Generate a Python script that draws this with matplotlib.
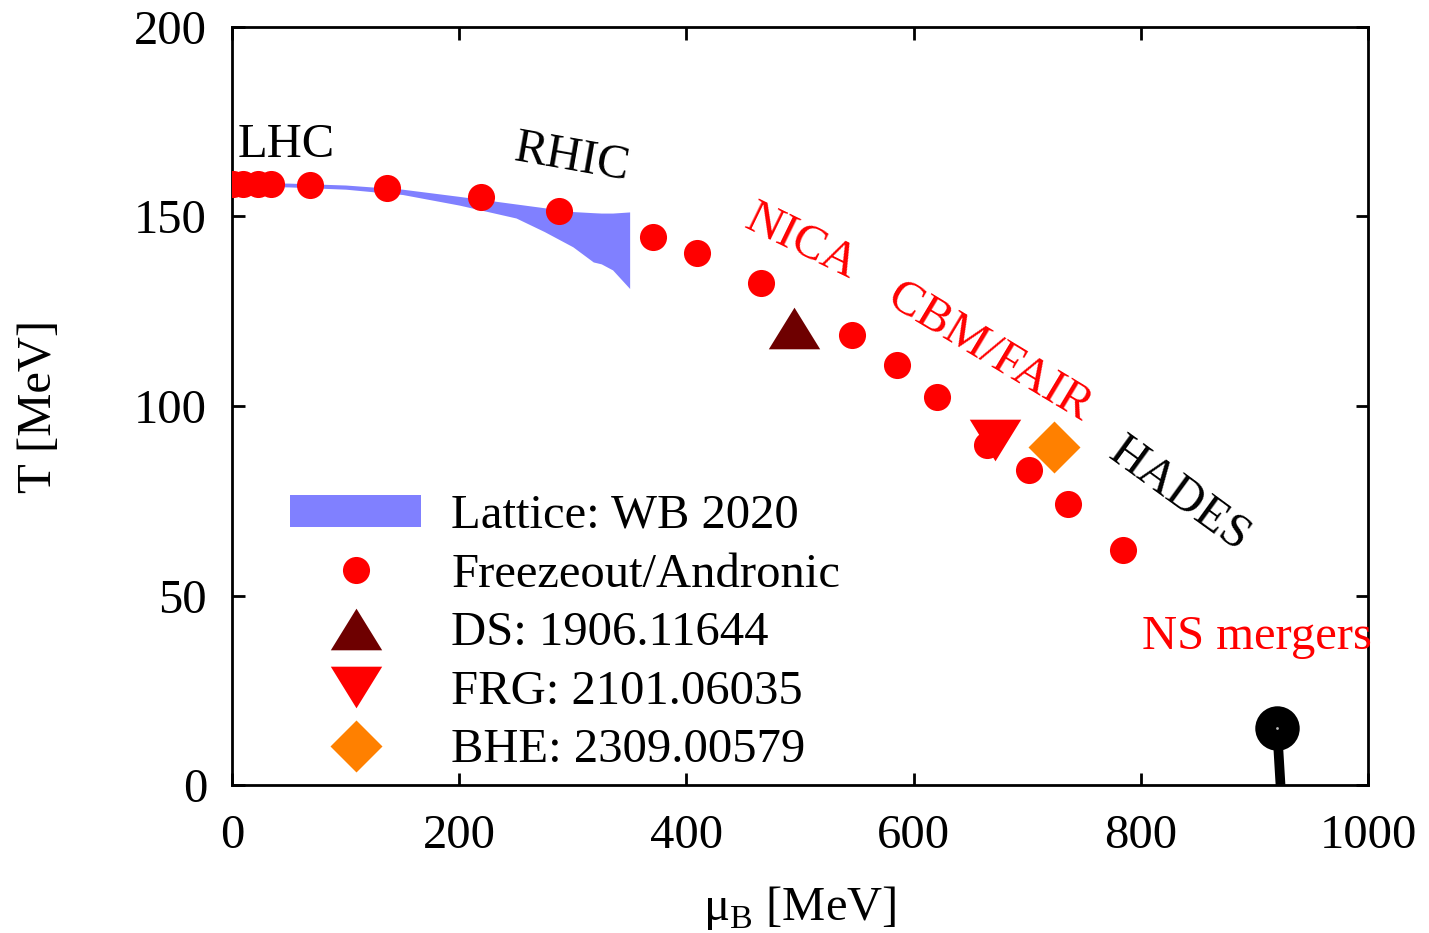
import matplotlib

matplotlib.use("Agg")
import matplotlib.pyplot as plt
from matplotlib.patches import Patch
from matplotlib.lines import Line2D

plt.rcParams["font.family"] = ["Liberation Serif", "DejaVu Serif"]
plt.rcParams["mathtext.fontset"] = "custom"
plt.rcParams["mathtext.rm"] = "Liberation Serif"

# lattice band (WB 2020)
lat_mu = [0, 50, 100, 150, 200, 250, 275, 300, 318, 325, 335, 350]
lat_upper = [158.9, 158.8, 158.3, 157.2, 155.3, 153.3, 152.3, 151.3, 151.0, 150.9, 150.9, 151.2]
lat_lower = [158.0, 157.8, 157.2, 155.8, 153.0, 149.6, 146.0, 142.0, 138.0, 137.5, 135.9, 131.0]

# freeze-out points (Andronic)
fo_mu = [1, 10, 23, 34, 69, 136, 219, 288, 371, 409, 466, 546, 585, 621, 665, 702, 736, 784]
fo_T = [158.6, 158.6, 158.6, 158.6, 158.3, 157.5, 155.1, 151.5, 144.6, 140.4, 132.5,
        118.7, 110.8, 102.4, 89.7, 83.1, 74.1, 62.0]

ds_mu, ds_T = [495], [120.5]
frg_mu, frg_T = [672], [91.0]
bhe_mu, bhe_T = [724], [89.2]

ns_mu, ns_T = [920], [15.0]
ns_line_mu = [920, 923]
ns_line_T = [15.0, 0.0]

labels = ["LHC", "RHIC", "NICA", "CBM/FAIR", "HADES"]
label_mu = [299, 501, 667, 834]
label_T = [165.4, 143.3, 114.2, 76.5]
label_rot = [-10, -26, -31, -36]
label_col = ["black", "red", "red", "black"]

FS = 35
tri_up = [(-1, -0.81), (1, -0.81), (0, 0.81)]
tri_dn = [(-1, 0.81), (1, 0.81), (0, -0.81)]

fig = plt.figure(figsize=(14.29, 9.33), dpi=100)
ax = fig.add_axes([0.1624, 0.1586, 0.7949, 0.8125])

ax.fill_between(lat_mu, lat_lower, lat_upper, color="#8080ff", lw=0, zorder=1)
ax.plot(fo_mu, fo_T, "o", color="red", ms=19.5, mec="none", zorder=3)
ax.plot(ds_mu, ds_T, marker=tri_up, ls="none", color="#6e0000", ms=37, mec="none", zorder=4)
ax.plot(frg_mu, frg_T, marker=tri_dn, ls="none", color="red", ms=37, mec="none", zorder=4)
ax.plot(bhe_mu, bhe_T, "D", color="#ff8000", ms=26.5, mec="none", zorder=4)

ax.plot(ns_line_mu, ns_line_T, color="black", lw=7, solid_capstyle="butt", zorder=4)
ax.plot(ns_mu, ns_T, "o", color="black", ms=32, mec="none", zorder=5)
ax.plot(ns_mu, ns_T, "o", color="#bbbbbb", ms=2, mec="none", zorder=6)

ax.text(5, 165.7, "LHC", fontsize=FS, color="black", ha="left", va="baseline")
for name, x, y, r, c in zip(labels[1:], label_mu, label_T, label_rot, label_col):
    ax.text(x, y, name, fontsize=FS, color=c, rotation=r, rotation_mode="anchor",
            ha="center", va="center")
ax.text(801, 35.9, "NS mergers", fontsize=FS, color="red", ha="left", va="baseline", clip_on=False)

ax.set_xlim(0, 1000)
ax.set_ylim(0, 200)
ax.set_xticks([0, 200, 400, 600, 800, 1000])
ax.set_yticks([0, 50, 100, 150, 200])
ax.tick_params(direction="in", length=9, width=2, top=True, right=True, labelsize=FS)
ax.tick_params(axis="x", pad=21)
ax.tick_params(axis="y", pad=18)
for sp in ax.spines.values():
    sp.set_linewidth(2)

ax.set_xlabel(r"μ$_{\rm B}$ [MeV]", fontsize=FS)
ax.set_ylabel("T [MeV]", fontsize=FS)
ax.xaxis.set_label_coords(0.5, -0.131)
ax.yaxis.set_label_coords(-0.151, 0.5)

handles = [
    Patch(facecolor="#8080ff", edgecolor="none"),
    Line2D([], [], ls="none", marker="o", color="red", ms=19.5, mec="none"),
    Line2D([], [], ls="none", marker=tri_up, color="#6e0000", ms=37, mec="none"),
    Line2D([], [], ls="none", marker=tri_dn, color="red", ms=37, mec="none"),
    Line2D([], [], ls="none", marker="D", color="#ff8000", ms=26.5, mec="none"),
]
names = ["Lattice: WB 2020", "Freezeout/Andronic", "DS: 1906.11644",
         "FRG: 2101.06035", "BHE: 2309.00579"]
ax.legend(handles, names, loc="upper left", bbox_to_anchor=(0.051, 0.384), frameon=False,
          fontsize=FS, borderpad=0, borderaxespad=0, handlelength=2.7, handleheight=0.62,
          handletextpad=0.62, labelspacing=0.30)

fig.savefig("out.png", dpi=100)
